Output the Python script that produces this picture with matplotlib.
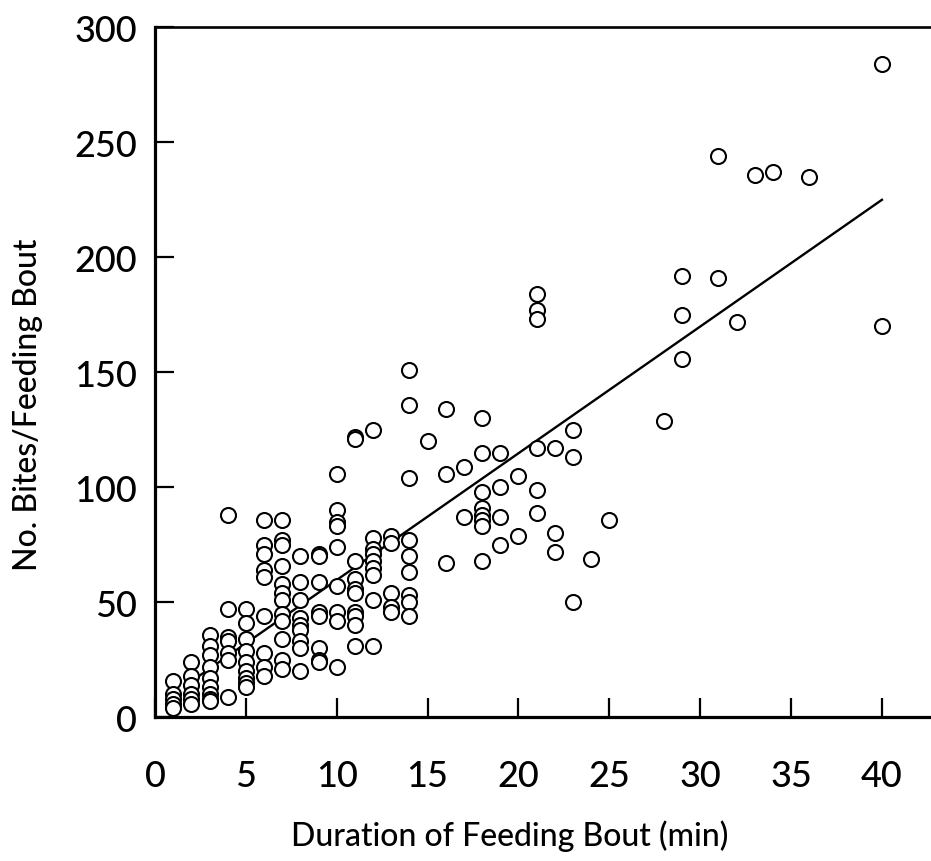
import matplotlib
matplotlib.use("Agg")
import matplotlib.pyplot as plt
import numpy as np

# Data (duration in min, bites per feeding bout)
duration = (
    [1] * 5 + [2] * 6 + [3] * 9 + [4] * 7 + [5] * 9 + [6] * 9 + [7] * 12 +
    [8] * 9 + [9] * 8 + [10] * 9 + [11] * 10 + [12] * 9 + [13] * 5 + [14] * 9 +
    [15] + [16] * 3 + [17] * 2 + [18] * 8 + [19] * 4 + [20] * 2 + [21] * 6 +
    [22] * 3 + [23] * 3 + [24] + [25] + [28] + [29] * 3 + [31] * 2 + [32] +
    [33] + [34] + [36] + [40] * 2
)
bites = [
    16, 10, 8, 6, 4,
    24, 18, 14, 10, 8, 6,
    36, 31, 27, 22, 17, 13, 10, 8, 7,
    88, 47, 35, 33, 28, 25, 9,
    47, 41, 34, 29, 24, 20, 17, 15, 13,
    86, 75, 71, 64, 61, 44, 28, 22, 18,
    86, 77, 75, 66, 58, 54, 51, 45, 42, 34, 25, 21,
    70, 59, 51, 43, 40, 38, 33, 30, 20,
    71, 70, 59, 46, 44, 30, 25, 24,
    106, 90, 85, 83, 74, 57, 46, 42, 22,
    122, 121, 68, 60, 56, 54, 46, 44, 40, 31,
    125, 78, 73, 71, 68, 65, 62, 51, 31,
    79, 76, 54, 48, 46,
    151, 136, 104, 77, 70, 63, 53, 50, 44,
    120,
    134, 106, 67,
    109, 87,
    130, 115, 98, 91, 88, 86, 83, 68,
    115, 100, 87, 75,
    105, 79,
    184, 177, 173, 117, 99, 89,
    117, 80, 72,
    125, 113, 50,
    69,
    86,
    129,
    192, 175, 156,
    244, 191,
    172,
    236,
    237,
    235,
    284, 170,
]

# Regression line
fit_intercept = 4.6
fit_slope = 5.51
fit_range = [2.2, 40.0]

x_ticks = [0, 5, 10, 15, 20, 25, 30, 35, 40]
y_ticks = [0, 50, 100, 150, 200, 250, 300]

plt.rcParams['font.family'] = ['Lato', 'DejaVu Sans']

fig = plt.figure(figsize=(9.31, 8.62), dpi=100)
ax = fig.add_axes([155 / 931, 1 - 718.3 / 862, 1 - 155 / 931, (718.3 - 28.3) / 862])

ax.plot(duration, bites, linestyle='none', marker='o', ms=10.8,
        mfc='white', mec='black', mew=1.5, zorder=3)

fx = np.array(fit_range)
ax.plot(fx, fit_intercept + fit_slope * fx, color='black', lw=1.7, zorder=2)

ax.set_xlim(0, 42.7)
ax.set_ylim(0, 300)
ax.set_xticks(x_ticks)
ax.set_yticks(y_ticks)
ax.set_xticklabels([str(t) for t in x_ticks])
ax.set_yticklabels([str(t) for t in y_ticks])

ax.tick_params(axis='x', direction='in', length=14, width=1.6, pad=30,
               labelsize=26, top=False)
ax.tick_params(axis='y', direction='in', length=14, width=1.6, pad=13,
               labelsize=26, right=False)
for lab in ax.get_xticklabels() + ax.get_yticklabels():
    lab.set_fontweight('medium')

for s in ['left', 'bottom']:
    ax.spines[s].set_linewidth(2.3)
ax.spines['top'].set_linewidth(1.9)
ax.spines['right'].set_visible(False)

fig.text(510 / 931, 1 - 836 / 862, 'Duration of Feeding Bout (min)',
         ha='center', va='center', fontsize=23, fontweight='medium')
fig.text(28 / 931, 1 - 405 / 862, 'No. Bites/Feeding Bout', rotation=90,
         ha='center', va='center', fontsize=23, fontweight='medium')

fig.savefig('out.png', dpi=100)
